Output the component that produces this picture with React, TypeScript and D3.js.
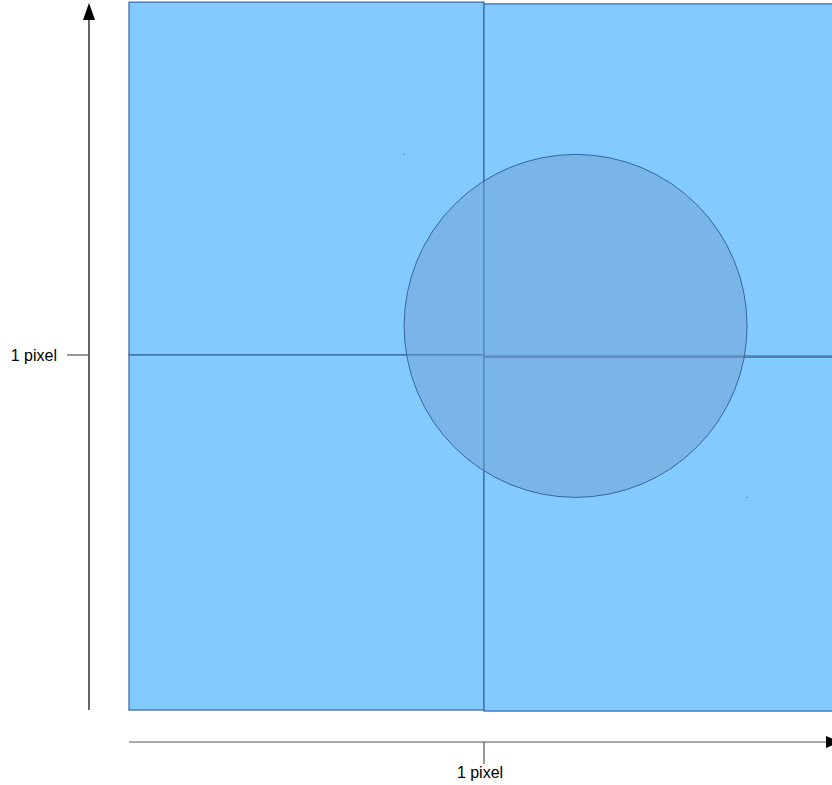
import React from "react";
import * as d3 from "d3";

// pixel squares: [x0, y0] lower-left corner in pixel units (hand-placed, slightly off grid)
const squareX = [0, 1.0, 0, 1.0];
const squareY = [1.0, 0.997, 0, -0.003];
const squareW = [1.0, 1.0, 1.0, 1.0];
const squareH = [0.994, 0.992, 1.0, 0.997];

// circle: center and radius in pixel units
const circleCx = [1.258];
const circleCy = [1.082];
const circleR = [0.483];

const xTicks = [1];
const yTicks = [1];
const tickLabels = ["1 pixel"];

export default function App() {
  const W = 832, H = 785;
  const x = d3.scaleLinear().domain([0, 1]).range([129, 484]);
  const y = d3.scaleLinear().domain([0, 1]).range([710, 355]);
  const k = x(1) - x(0);
  const font = "'Liberation Sans', Arial, sans-serif";
  return (
    <svg width={W} height={H} style={{ position: "absolute", left: 0, top: 0 }}>
      {squareX.map((sx, i) => (
        <rect
          key={i}
          x={x(sx)}
          y={y(squareY[i] + squareH[i])}
          width={squareW[i] * k}
          height={squareH[i] * k}
          fill="#83caff"
          stroke="#3465a4"
          strokeWidth={1.2}
        />
      ))}
      {circleCx.map((cx, i) => (
        <g key={i}>
          <circle
            cx={x(cx)}
            cy={y(circleCy[i])}
            r={circleR[i] * k}
            fill="#729fcf"
            fillOpacity={0.5}
            stroke="#3465a4"
            strokeWidth={1}
          />
          <rect x={x(cx - circleR[i]) - 0.5} y={y(circleCy[i] + circleR[i]) - 0.5} width={1} height={1} fill="#3465a4" />
          <rect x={x(cx + circleR[i]) - 0.5} y={y(circleCy[i] - circleR[i]) - 0.5} width={1} height={1} fill="#3465a4" />
        </g>
      ))}
      {/* Y axis */}
      <line x1={89} x2={89} y1={710} y2={18} stroke="#000" strokeWidth={1.2} />
      <path d="M89,3 L83,20 L95,20 Z" fill="#000" />
      {yTicks.map((t, i) => (
        <g key={i}>
          <line x1={67} x2={89} y1={y(t)} y2={y(t)} stroke="#555" strokeWidth={1.2} />
          <text x={57} y={y(t) + 6} textAnchor="end" fontFamily={font} fontSize={16} fill="#000">
            {tickLabels[i]}
          </text>
        </g>
      ))}
      {/* X axis */}
      <line x1={129} x2={826} y1={742} y2={742} stroke="#555" strokeWidth={1.2} />
      <path d="M841,742 L826,736 L826,748 Z" fill="#000" />
      {xTicks.map((t, i) => (
        <g key={i}>
          <line x1={x(t)} x2={x(t)} y1={742} y2={764} stroke="#555" strokeWidth={1.2} />
          <text x={x(t) - 4} y={778} textAnchor="middle" fontFamily={font} fontSize={16} fill="#000">
            {tickLabels[i]}
          </text>
        </g>
      ))}
    </svg>
  );
}
